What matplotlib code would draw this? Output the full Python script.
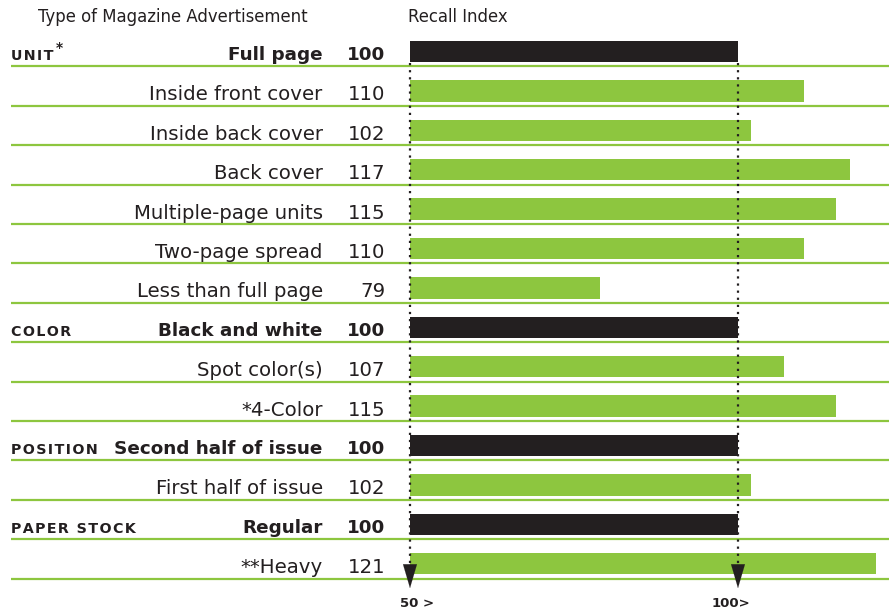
import matplotlib
matplotlib.use('Agg')
from matplotlib import pyplot as plt

plt.rcParams['font.family'] = ['DejaVu Sans']

labels = ['Full page', 'Inside front cover', 'Inside back cover', 'Back cover',
          'Multiple-page units', 'Two-page spread', 'Less than full page',
          'Black and white', 'Spot color(s)', '*4-Color',
          'Second half of issue', 'First half of issue',
          'Regular', '**Heavy']
values = [100, 110, 102, 117, 115, 110, 79, 100, 107, 115, 100, 102, 100, 121]
baseline = [True, False, False, False, False, False, False,
            True, False, False, True, False, True, False]
groups = {0: 'UNIT', 7: 'COLOR', 10: 'POSITION', 12: 'PAPER STOCK'}

green = '#8dc63f'
black = '#231f20'

fig = plt.figure(figsize=(8.89, 6.12), dpi=100)
ax = fig.add_axes([0, 0, 1, 1])
ax.set_xlim(-12.5, 123.02)
ax.set_ylim(14.226, -1.307)
ax.axis('off')

n = len(values)
rows = range(n)
colors = [black if b else green for b in baseline]
ax.barh(list(rows), [v - 50 for v in values], left=50, height=0.54, color=colors)

# green separator lines
for i in rows:
    ax.plot([-10.85, 123.02], [i + 0.38, i + 0.38], color=green, lw=1.6,
            solid_capstyle='butt')

for i in rows:
    w = 'bold' if baseline[i] else 'normal'
    fs = 13.2 if baseline[i] else 14.2
    ax.text(36.7, i + 0.1, labels[i], ha='right', va='center', fontsize=fs,
            fontweight=w, color=black)
    ax.text(46.2, i + 0.1, str(values[i]), ha='right', va='center', fontsize=fs,
            fontweight=w, color=black)

# group names, letter-spaced small caps
for i, g in groups.items():
    spaced = '\u200a'.join(g).replace('\u200a \u200a', ' \u2009')
    ax.text(-10.85, i + 0.12, spaced, ha='left', va='center', fontsize=10.3,
            fontweight='bold', color=black)
ax.text(-10.85 + 6.9, -0.1, '*', ha='left', va='center', fontsize=10,
        fontweight='bold', color=black)

# reference lines with arrows
for xv in [50, 100]:
    ax.plot([xv, xv], [0.28, 13.2], color=black, lw=1.6, ls=(0, (1, 2.2)))
    ax.annotate('', xy=(xv, 13.62), xytext=(xv, 12.95),
                arrowprops=dict(arrowstyle='-|>,head_length=1.7,head_width=0.5',
                                color=black, lw=0.1, shrinkA=0, shrinkB=0))

ax.text(51.1, 14.0, '50 >', ha='center', va='center', fontsize=9.5,
        fontweight='bold', color=black)
ax.text(99.0, 14.0, '100>', ha='center', va='center', fontsize=9.5,
        fontweight='bold', color=black)

ax.text(-6.7, -0.88, 'Type of Magazine Advertisement', ha='left', va='center',
        fontsize=11.9, color=black)
ax.text(49.7, -0.88, 'Recall Index', ha='left', va='center',
        fontsize=11.9, color=black)

fig.savefig('out.png', dpi=100)
